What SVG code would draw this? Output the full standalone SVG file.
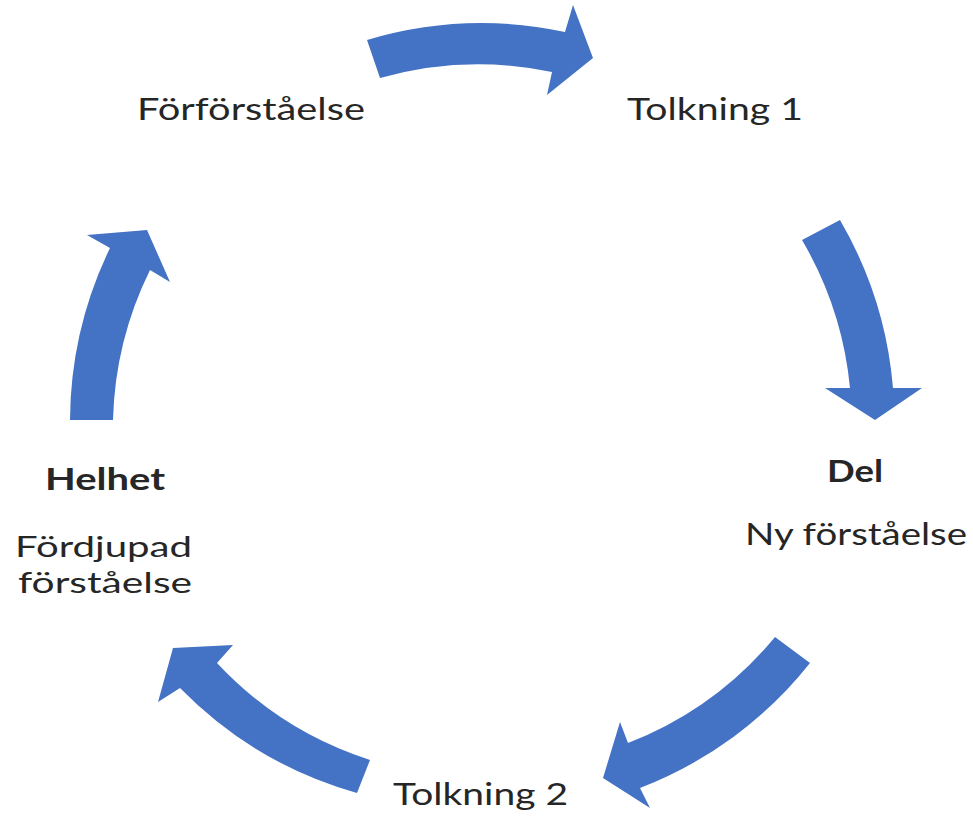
<svg xmlns="http://www.w3.org/2000/svg" width="973" height="819" viewBox="0 0 973 819">
<style>
.arrow{fill:#4472C4;stroke:none}
.t{font-family:Lato,"Open Sans","Liberation Sans",sans-serif;font-size:30px;fill:#262626}
.s{font-size:29px}
.b{font-weight:bold}
</style>
<rect width="973" height="819" fill="#ffffff"/>
<g id="connectors">
<path id="arrow1" class="arrow" d="M367,40 A400,400 0 0 1 565,32 L573,5 L593,58 L547,95 L552,72 A360,360 0 0 0 380,78 Z"/>
<path id="arrow2" class="arrow" d="M802,240 L840,220 A400,400 0 0 1 893,388 L922,388 L875,420 L825,388 L850,388 A360,360 0 0 0 802,240 Z"/>
<path id="arrow3" class="arrow" d="M775,637 L810,663 A400,400 0 0 1 640,788 L650,808 L603,778 L620,722 L628,743 A360,360 0 0 0 775,637 Z"/>
<path id="arrow4" class="arrow" d="M370,760 L357,793 A400,400 0 0 1 180,688 L158,702 L173,648 L233,645 L217,663 A360,360 0 0 0 370,760 Z"/>
<path id="arrow5" class="arrow" d="M70,420 A400,400 0 0 1 110,248 L87,235 L147,230 L170,282 L150,270 A360,360 0 0 0 113,420 Z"/>
</g>
<g id="node-forforstaelse">
<text class="t" x="137" y="120" textLength="228" lengthAdjust="spacingAndGlyphs">Förförståelse</text>
</g>
<g id="node-tolkning1">
<text class="t" x="627" y="120" textLength="176" lengthAdjust="spacingAndGlyphs">Tolkning 1</text>
</g>
<g id="node-del">
<text class="t b" x="827" y="482" textLength="56" lengthAdjust="spacingAndGlyphs">Del</text>
<text class="t" x="745" y="545" textLength="222" lengthAdjust="spacingAndGlyphs">Ny förståelse</text>
</g>
<g id="node-tolkning2">
<text class="t" x="393" y="805" textLength="175" lengthAdjust="spacingAndGlyphs">Tolkning 2</text>
</g>
<g id="node-helhet">
<text class="t b" x="45" y="490" textLength="120" lengthAdjust="spacingAndGlyphs">Helhet</text>
<text class="t s" x="15" y="557" textLength="177" lengthAdjust="spacingAndGlyphs">Fördjupad</text>
<text class="t s" x="18" y="593" textLength="174" lengthAdjust="spacingAndGlyphs">förståelse</text>
</g>
</svg>
